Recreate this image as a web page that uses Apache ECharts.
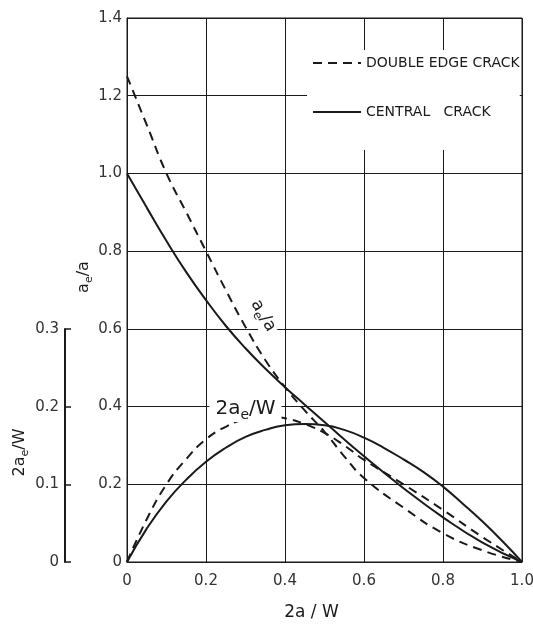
<!DOCTYPE html>
<html>
<head>
<meta charset="utf-8">
<script src="https://cdn.jsdelivr.net/npm/echarts@6/dist/echarts.min.js"></script>
<style>
html,body{margin:0;padding:0;background:#fff;}
#chart{width:533px;height:624px;}
</style>
</head>
<body>
<div id="chart"></div>
<script>
// x = 2a/W
var xCentralRatio = [0, 0.05, 0.1, 0.15, 0.2, 0.25, 0.3, 0.35, 0.4, 0.45, 0.5, 0.6, 0.7, 0.8, 0.9, 1.0];
// a_e/a, central crack (solid)
var centralRatio   = [1.0, 0.912, 0.826, 0.746, 0.674, 0.608, 0.55, 0.498, 0.45, 0.405, 0.36, 0.272, 0.19, 0.115, 0.05, 0];

var xEdgeRatio = [0, 0.02, 0.05, 0.1, 0.15, 0.2, 0.25, 0.3, 0.35, 0.4, 0.45, 0.5, 0.55, 0.6, 0.7, 0.8, 0.9, 1.0];
// a_e/a, double edge crack (dashed)
var edgeRatio  = [1.25, 1.2, 1.125, 1.0, 0.9, 0.8, 0.7, 0.605, 0.52, 0.45, 0.39, 0.335, 0.272, 0.216, 0.14, 0.074, 0.03, 0];

var xCentralWidth = [0, 0.05, 0.1, 0.15, 0.2, 0.25, 0.3, 0.35, 0.4, 0.45, 0.5, 0.55, 0.6, 0.65, 0.7, 0.75, 0.8, 0.85, 0.9, 0.95, 1.0];
// 2a_e/W, central crack (solid)
var centralWidth  = [0, 0.043, 0.078, 0.106, 0.129, 0.147, 0.161, 0.17, 0.176, 0.1775, 0.176, 0.17, 0.16, 0.147, 0.132, 0.116, 0.097, 0.075, 0.052, 0.027, 0];

var xEdgeWidth = [0, 0.05, 0.1, 0.15, 0.2, 0.25, 0.3, 0.35, 0.4, 0.45, 0.5, 0.55, 0.6, 0.7, 0.8, 0.9, 1.0];
// 2a_e/W, double edge crack (dashed)
var edgeWidth  = [0, 0.055, 0.1, 0.1325, 0.158, 0.174, 0.184, 0.1875, 0.185, 0.1775, 0.166, 0.15, 0.1315, 0.1, 0.067, 0.032, 0];

var legendNames = ['DOUBLE EDGE CRACK', 'CENTRAL   CRACK'];

function pairs(xs, ys) { return xs.map(function (x, i) { return [x, ys[i]]; }); }
function fmt(v) { return v === 0 ? '0' : v.toFixed(1); }

var FONT = 'DejaVu Sans';
var INK = '#1a1a1a';
function subRich(size) {
  return {
    m: { fontFamily: FONT, fontSize: size, color: INK, lineHeight: size + 6 },
    s: { fontFamily: FONT, fontSize: Math.round(size * 0.7), color: INK, lineHeight: 10, verticalAlign: 'bottom' }
  };
}

var chart = echarts.init(document.getElementById('chart'), null, { renderer: 'canvas' });
chart.setOption({
  animation: false,
  backgroundColor: '#fff',
  grid: [
    { left: 127, right: 11, top: 18, bottom: 62, show: true, borderColor: INK, borderWidth: 1, outerBoundsMode: 'none', containLabel: false },
    { left: 65, width: 1, top: 329, bottom: 62, outerBoundsMode: 'none', containLabel: false }
  ],
  legend: {
    orient: 'vertical',
    left: 307, top: 50,
    padding: [6, 0, 31, 5],
    backgroundColor: '#fff',
    itemWidth: 48, itemHeight: 14, itemGap: 35,
    data: legendNames,
    itemStyle: { color: 'rgba(0,0,0,0)', borderWidth: 0, opacity: 0 },
    textStyle: { fontFamily: FONT, fontSize: 14, color: INK }
  },
  xAxis: [
    {
      type: 'value', gridIndex: 0, min: 0, max: 1.0, interval: 0.2,
      axisLine: { show: true, lineStyle: { color: INK, width: 1 } },
      axisTick: { show: false },
      splitLine: { show: true, lineStyle: { color: INK, width: 1 } },
      axisLabel: { formatter: fmt, fontFamily: FONT, fontSize: 15, color: '#333', margin: 12 },
      name: '2a / W', nameLocation: 'middle', nameGap: 42, nameMoveOverlap: false,
      nameTextStyle: { fontFamily: FONT, fontSize: 17, color: INK, padding: [0, 26, 0, 0] }
    },
    { type: 'value', gridIndex: 1, min: 0, max: 1, show: false }
  ],
  yAxis: [
    {
      type: 'value', gridIndex: 0, min: 0, max: 1.4, interval: 0.2,
      axisLine: { show: true, lineStyle: { color: INK, width: 1 } },
      axisTick: { show: false },
      splitLine: { show: true, lineStyle: { color: INK, width: 1 } },
      axisLabel: { formatter: fmt, fontFamily: FONT, fontSize: 15, color: '#333', margin: 5 },
      name: '{m|a}{s|e}{m|/a}', nameLocation: 'middle', nameGap: 32, nameMoveOverlap: false,
      nameTextStyle: { rich: subRich(16), padding: [0, 0, 0, 26] }
    },
    { type: 'value', gridIndex: 0, min: 0, max: 0.7, show: false },
    {
      type: 'value', gridIndex: 1, position: 'left', min: 0, max: 0.3, interval: 0.1,
      axisLine: { show: true, lineStyle: { color: INK, width: 2 } },
      axisTick: { show: true, inside: true, length: 6, lineStyle: { color: INK, width: 1.5 } },
      splitLine: { show: false },
      axisLabel: { formatter: fmt, fontFamily: FONT, fontSize: 15, color: '#333', margin: 6 },
      name: '{m|2a}{s|e}{m|/W}', nameLocation: 'middle', nameGap: 34, nameMoveOverlap: false,
      nameTextStyle: { rich: subRich(16), padding: [0, 14, 0, 0] }
    }
  ],
  series: [
    {
      name: legendNames[0], type: 'line', xAxisIndex: 0, yAxisIndex: 0,
      data: pairs(xEdgeRatio, edgeRatio), symbol: 'none', smooth: 0.5,
      lineStyle: { color: INK, width: 2, type: [9, 6] }, itemStyle: { color: INK }, z: 3
    },
    {
      name: legendNames[1], type: 'line', xAxisIndex: 0, yAxisIndex: 0,
      data: pairs(xCentralRatio, centralRatio), symbol: 'none', smooth: 0.5,
      lineStyle: { color: INK, width: 2 }, itemStyle: { color: INK }, z: 3,
      markPoint: {
        symbol: 'circle', symbolSize: 1, itemStyle: { color: 'rgba(0,0,0,0)' },
        data: [{ coord: [0.345, 0.634] }],
        label: {
          show: true, position: 'inside', rotate: -60, formatter: '{m|a}{s|e}{m|/a}',
          rich: subRich(17), backgroundColor: '#fff', padding: [0, 2]
        }
      }
    },
    {
      name: legendNames[0], type: 'line', xAxisIndex: 0, yAxisIndex: 1,
      data: pairs(xEdgeWidth, edgeWidth), symbol: 'none', smooth: 0.5,
      lineStyle: { color: INK, width: 2, type: [9, 6] }, itemStyle: { color: INK }, z: 3
    },
    {
      name: legendNames[1], type: 'line', xAxisIndex: 0, yAxisIndex: 1,
      data: pairs(xCentralWidth, centralWidth), symbol: 'none', smooth: 0.5,
      lineStyle: { color: INK, width: 2 }, itemStyle: { color: INK }, z: 3,
      markPoint: {
        symbol: 'circle', symbolSize: 1, itemStyle: { color: 'rgba(0,0,0,0)' },
        data: [{ coord: [0.3, 0.197] }],
        label: {
          show: true, position: 'inside', formatter: '{m|2a}{s|e}{m|/W}',
          rich: subRich(20), backgroundColor: '#fff', padding: [0, 6]
        }
      }
    }
  ]
});
</script>
</body>
</html>
